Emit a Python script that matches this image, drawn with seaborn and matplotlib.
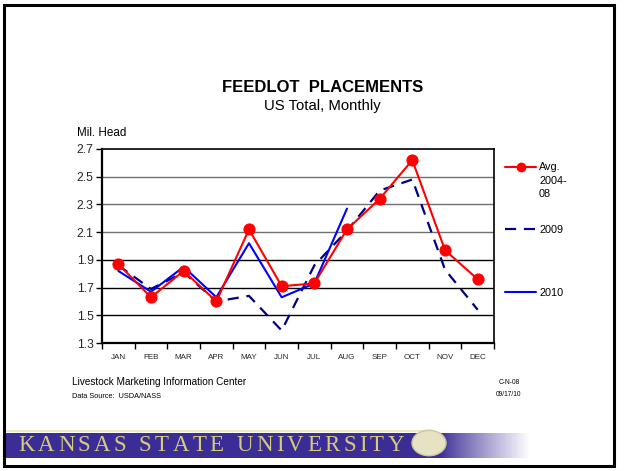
import numpy as np
import pandas as pd
import matplotlib
matplotlib.use("Agg")
import matplotlib.pyplot as plt
import seaborn as sns
from matplotlib.lines import Line2D
from matplotlib.patches import Rectangle, Circle

months = ["JAN", "FEB", "MAR", "APR", "MAY", "JUN", "JUL", "AUG", "SEP", "OCT", "NOV", "DEC"]
avg_0408 = [1.87, 1.63, 1.82, 1.60, 2.12, 1.71, 1.73, 2.12, 2.34, 2.62, 1.97, 1.76]
y2009 = [1.86, 1.69, 1.81, 1.60, 1.64, 1.39, 1.86, 2.11, 2.40, 2.48, 1.83, 1.54]
y2010 = [1.82, 1.67, 1.85, 1.63, 2.02, 1.63, 1.73, 2.27, np.nan, np.nan, np.nan, np.nan]
y_ticks = [1.3, 1.5, 1.7, 1.9, 2.1, 2.3, 2.5, 2.7]

df = pd.DataFrame({"month": months, "avg": avg_0408, "y2009": y2009, "y2010": y2010})

sns.set_theme(style="white")
plt.rcParams["font.family"] = ["Liberation Sans", "DejaVu Sans"]

W, H = 629, 471
fig = plt.figure(figsize=(W / 100, H / 100), dpi=100)
fig.patch.set_facecolor("white")

def fx(px):
    return px / W

def fy(py):
    return 1 - py / H

ax = fig.add_axes([fx(102), fy(343), fx(494) - fx(102), fy(149) - fy(343)])

sns.lineplot(data=df, x="month", y="y2009", ax=ax, color="#000080", lw=1.6,
             linestyle=(0, (5, 3.5)), sort=False)
sns.lineplot(data=df, x="month", y="y2010", ax=ax, color="#0000ff", lw=1.5, sort=False)
sns.lineplot(data=df, x="month", y="avg", ax=ax, color="#ff0000", lw=1.5,
             marker="o", markersize=8, markeredgecolor="#ff0000", sort=False)

ax.set_xlim(-0.5, 11.5)
ax.set_ylim(1.3, 2.7)
ax.set_yticks(y_ticks)
ax.set_yticklabels([f"{v:.1f}" for v in y_ticks], fontsize=8.7)
for v in y_ticks[1:-1]:
    col = "#000000" if v < 2.0 else "#707070"
    ax.axhline(v, color=col, lw=1.0, zorder=0)

ax.set_xticks(np.arange(len(months)))
ax.set_xticklabels(months, fontsize=5.8)
ax.set_xticks(np.arange(-0.5, 12, 1), minor=True)
ax.tick_params(axis="x", which="major", length=0, pad=8)
ax.tick_params(axis="x", which="minor", length=4, width=1, color="black", direction="out", bottom=True)
ax.tick_params(axis="y", length=4, width=1, color="black", direction="out", left=True, pad=2)
ax.set_xlabel("")
ax.set_ylabel("")
for s in ax.spines.values():
    s.set_color("black")
    s.set_linewidth(1.2)
ax.spines["left"].set_linewidth(1.6)
ax.spines["bottom"].set_linewidth(1.6)

# Titles
fig.text(fx(323), fy(87), "FEEDLOT  PLACEMENTS", fontsize=12, fontweight="bold",
         ha="center", va="center", color="black")
fig.text(fx(322), fy(106), "US Total, Monthly", fontsize=10.7, ha="center", va="center", color="black")
fig.text(fx(77), fy(133), "Mil. Head", fontsize=8.4, ha="left", va="center", color="black")

# Legend (manual, right of plot)
lg_x0, lg_x1, lg_tx = fx(505), fx(536), fx(539)
fig.add_artist(Line2D([lg_x0, lg_x1], [fy(167), fy(167)], color="#ff0000", lw=1.5,
                      transform=fig.transFigure))
fig.add_artist(Line2D([(lg_x0 + lg_x1) / 2], [fy(167)], color="#ff0000", marker="o",
                      markersize=6, transform=fig.transFigure))
fig.text(lg_tx, fy(162), "Avg.\n2004-\n08", fontsize=7.8, ha="left", va="top",
         linespacing=1.45, color="black")
fig.add_artist(Line2D([lg_x0, lg_x1], [fy(229), fy(229)], color="#000080", lw=1.6,
                      linestyle=(0, (5, 3.5)), transform=fig.transFigure))
fig.text(lg_tx, fy(230), "2009", fontsize=7.8, ha="left", va="center", color="black")
fig.add_artist(Line2D([lg_x0, lg_x1], [fy(292), fy(292)], color="#0000ff", lw=1.5,
                      transform=fig.transFigure))
fig.text(lg_tx, fy(293), "2010", fontsize=7.8, ha="left", va="center", color="black")

# Footer texts
fig.text(fx(72), fy(382), "Livestock Marketing Information Center", fontsize=7.2,
         ha="left", va="center", color="black")
fig.text(fx(72), fy(397), "Data Source:  USDA/NASS", fontsize=5.3, ha="left", va="center", color="black")
fig.text(fx(509), fy(382), "C-N-08", fontsize=4.8, ha="center", va="center", color="black")
fig.text(fx(508), fy(394), "09/17/10", fontsize=4.8, ha="center", va="center", color="black")

# Banner
bx0, bx1, by0, by1 = 5, 430, 433, 458
fig.add_artist(Rectangle((fx(bx0), fy(by1)), fx(bx1) - fx(bx0), fy(by0) - fy(by1),
                         facecolor="#3b2d96", edgecolor="none", transform=fig.transFigure, zorder=1))
purple = np.array([0x3b, 0x2d, 0x96]) / 255
img = np.zeros((1, 256, 3))
for i, t in enumerate(np.linspace(0, 1, 256)):
    a = min(1.0, max(0.0, (t - 0.1) / 0.9)) ** 0.9
    img[0, i] = purple * (1 - a) + np.array([1, 1, 1]) * a
gax = fig.add_axes([fx(bx1), fy(by1), fx(530) - fx(bx1), fy(by0) - fy(by1)])
gax.imshow(img, aspect="auto", extent=[0, 1, 0, 1])
gax.axis("off")
fig.add_artist(Line2D([fx(5), fx(430)], [fy(431), fy(431)], color="#eee8c8", lw=1.5,
                      transform=fig.transFigure))

# Letter-spaced banner text
banner = "KANSAS STATE UNIVERSITY"
renderer = fig.canvas.get_renderer()
fs = 16.5
widths = []
for ch in banner:
    if ch == " ":
        widths.append(fs * 100 / 72 * 0.25)
        continue
    t = fig.text(0, 0, ch, fontsize=fs, family="Liberation Serif")
    widths.append(t.get_window_extent(renderer).width)
    t.remove()
x_start, x_end = 18.0, 404.0
track = (x_end - x_start - sum(widths)) / (len(banner) - 1)
xp = x_start
for ch, w in zip(banner, widths):
    if ch != " ":
        fig.text(fx(xp), fy(445.5), ch, fontsize=fs, family="Liberation Serif",
                 color="#d8cc7c", ha="left", va="center", zorder=3)
    xp += w + track

fig.add_artist(Circle((fx(429), fy(443)), 17 / W, facecolor="#e8e2c4", edgecolor="#cfc6a0",
                      lw=1, transform=fig.transFigure, zorder=4))

# Page frame
fig.add_artist(Rectangle((fx(4), fy(466)), fx(614) - fx(4), fy(5) - fy(466), facecolor="none",
                         edgecolor="black", lw=2.2, transform=fig.transFigure, zorder=10))

fig.savefig("out.png", dpi=100)
